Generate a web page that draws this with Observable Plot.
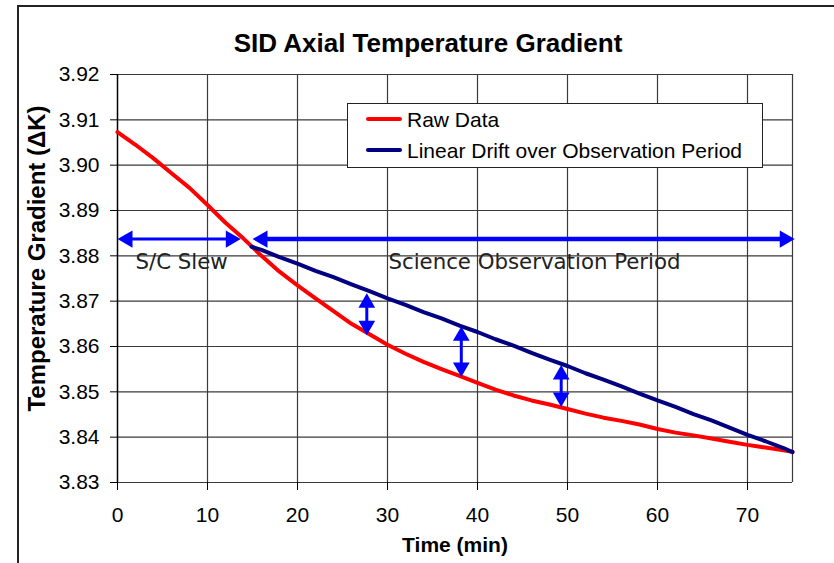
<!DOCTYPE html>
<html><head><meta charset="utf-8">
<script src="https://cdn.jsdelivr.net/npm/d3@7"></script>
<script src="https://cdn.jsdelivr.net/npm/@observablehq/plot@0.6"></script>
<style>
body{margin:0;background:#fff;}
#wrap{position:relative;width:834px;height:563px;overflow:hidden;background:#fff;}
#wrap svg{position:absolute;left:0;top:0;}
#border{position:absolute;left:17px;top:5px;width:1000px;height:1000px;border-top:2px solid #222;border-left:2px solid #222;pointer-events:none;}
#title{position:absolute;left:0;top:30px;width:856px;text-align:center;font:bold 26px "Liberation Sans",Arial,sans-serif;line-height:26px;color:#000;}
#legend{position:absolute;left:347px;top:103px;width:414px;height:63px;border:1px solid #222;background:#fff;font-family:"Liberation Sans",Arial,sans-serif;font-size:21px;line-height:21px;color:#000;}
#legend .sw{position:absolute;left:18px;width:36px;height:4px;border-radius:2px;}
#legend .lb{position:absolute;left:59px;white-space:nowrap;}
</style></head>
<body>
<div id="wrap"></div>
<script>
// ---- data ----
const rawTime = [0,2,4,6,8,10,12,14,16,18,20,22,24,26,28,30,32,34,36,38,40,42,44,46,48,50,52,54,56,58,60,62,64,66,68,70,72,74,75];
const rawGrad = [3.9073,3.9045,3.9015,3.8982,3.8950,3.8912,3.8873,3.8838,3.8800,3.8765,3.8735,3.8706,3.8678,3.8650,3.8627,3.8604,3.8584,3.8566,3.8550,3.8535,3.8520,3.8505,3.8492,3.8481,3.8472,3.8462,3.8452,3.8443,3.8436,3.8428,3.8418,3.8410,3.8404,3.8397,3.8390,3.8383,3.8377,3.8371,3.8368];
const driftTime = [14.9,16,18,20,22,24,26,28,30,32,34,36,38,40,42,44,46,48,50,52,54,56,58,60,62,64,66,68,70,72,74,75];
const driftGrad = [3.8820,3.8813,3.8797,3.8783,3.8767,3.8753,3.8737,3.8722,3.8706,3.8692,3.8676,3.8662,3.8646,3.8632,3.8616,3.8602,3.8586,3.8571,3.8557,3.8541,3.8527,3.8512,3.8496,3.8481,3.8467,3.8451,3.8437,3.8421,3.8405,3.8391,3.8376,3.8367];
const xTicks = [0,10,20,30,40,50,60,70];
const yTicks = [3.83,3.84,3.85,3.86,3.87,3.88,3.89,3.90,3.91,3.92];
const seriesNames = ["Raw Data","Linear Drift over Observation Period"];
const periodLabels = ["S/C Slew","Science Observation Period"];
const periodLabelX = [2.0, 30.1];
const periodLabelY = 3.8770;
const hArrowStart = [0, 15.0];
const hArrowEnd = [13.7, 75.25];
const hArrowY = 3.8837;
const vArrowX = [27.7, 38.2, 49.3];
const vArrowTop = [3.8717, 3.8644, 3.8559];
const vArrowBottom = [3.8625, 3.8533, 3.8467];
const titleText = "SID Axial Temperature Gradient";
const xLabel = "Time (min)";
const yLabel = "Temperature Gradient (\u0394K)";

// ---- tables ----
const raw = rawTime.map((t,i)=>({t, g: rawGrad[i]}));
const drift = driftTime.map((t,i)=>({t, g: driftGrad[i]}));
const hArrows = hArrowStart.map((s,i)=>({s, e: hArrowEnd[i], w: i===0 ? 3 : 4.5}));
const vArrows = vArrowX.map((x,i)=>({x, top: vArrowTop[i], bot: vArrowBottom[i]}));
const labels = periodLabels.map((l,i)=>({l, x: periodLabelX[i], y: periodLabelY}));

const BLUE = "#0000ff", RED = "#ff0000", NAVY = "#000080", GRID = "#3a3a3a";
const hHead = 6.4, vHead = 6.2;

const plot = Plot.plot({
  width: 834, height: 563,
  marginLeft: 117, marginRight: 42, marginTop: 74, marginBottom: 81,
  style: {fontFamily: "'Liberation Sans', Arial, sans-serif", fontSize: "21px", background: "transparent", color: "#000"},
  x: {domain: [0, 75]},
  y: {domain: [3.83, 3.92]},
  marks: [
    Plot.ruleY(yTicks, {stroke: GRID, strokeWidth: 1.2}),
    Plot.ruleX(xTicks.slice(1).concat([75]), {stroke: GRID, strokeWidth: 1.2}),
    Plot.ruleX([0], {stroke: "#000", strokeWidth: 1.5}),
    Plot.axisY({ticks: yTicks, tickFormat: d3.format(".2f"), tickSize: 7, tickPadding: 11, label: null}),
    Plot.axisX({ticks: xTicks, tickSize: 8, tickPadding: 16.5, label: null}),
    Plot.text([xLabel], {text: d=>d, frameAnchor: "bottom", lineAnchor: "bottom", dy: 69.4, fontWeight: "bold", fontSize: 21}),
    Plot.text([yLabel], {text: d=>d, frameAnchor: "left", textAnchor: "middle", rotate: -90, lineAnchor: "top", dx: -90, dy: -20, fontWeight: "bold", fontSize: 24}),
    Plot.text(labels, {x: "x", y: "y", text: "l", textAnchor: "start", lineAnchor: "bottom", fontFamily: "'DejaVu Sans', Verdana, sans-serif", fontSize: 21.3, fill: "#222"}),
    Plot.line(raw, {x: "t", y: "g", stroke: RED, strokeWidth: 4, strokeLinejoin: "round", strokeLinecap: "round"}),
    Plot.line(drift, {x: "t", y: "g", stroke: NAVY, strokeWidth: 4, strokeLinejoin: "round", strokeLinecap: "round"}),
    // horizontal double arrows
    Plot.link(hArrows, {x1: d=>d.s + 0.8, x2: d=>d.e - 0.8, y1: ()=>hArrowY, y2: ()=>hArrowY, stroke: BLUE, strokeWidth: d=>d.w}),
    Plot.dot(hArrows, {x: "s", y: ()=>hArrowY, symbol: "triangle", r: hHead, rotate: -90, dx: 10, fill: BLUE, stroke: null}),
    Plot.dot(hArrows, {x: "e", y: ()=>hArrowY, symbol: "triangle", r: hHead, rotate: 90, dx: -10, fill: BLUE, stroke: null}),
    // vertical double arrows
    Plot.link(vArrows, {x1: "x", x2: "x", y1: d=>d.top - 0.001, y2: d=>d.bot + 0.001, stroke: BLUE, strokeWidth: 3}),
    Plot.dot(vArrows, {x: "x", y: "top", symbol: "triangle", r: vHead, rotate: 0, dy: 9.5, fill: BLUE, stroke: null}),
    Plot.dot(vArrows, {x: "x", y: "bot", symbol: "triangle", r: vHead, rotate: 180, dy: -9.5, fill: BLUE, stroke: null})
  ]
});

const wrap = document.getElementById("wrap");
wrap.appendChild(plot);
const border = document.createElement("div"); border.id = "border"; wrap.appendChild(border);
const title = document.createElement("div"); title.id = "title"; title.textContent = titleText; wrap.appendChild(title);
const legend = document.createElement("div"); legend.id = "legend";
const legendColors = [RED, NAVY];
seriesNames.forEach((name, i) => {
  const sw = document.createElement("div"); sw.className = "sw";
  sw.style.top = (i === 0 ? 13.3 : 44) + "px"; sw.style.background = legendColors[i];
  const lb = document.createElement("div"); lb.className = "lb";
  lb.style.top = (i === 0 ? 4.9 : 35.9) + "px"; lb.textContent = name;
  legend.appendChild(sw); legend.appendChild(lb);
});
wrap.appendChild(legend);
</script>
</body></html>
